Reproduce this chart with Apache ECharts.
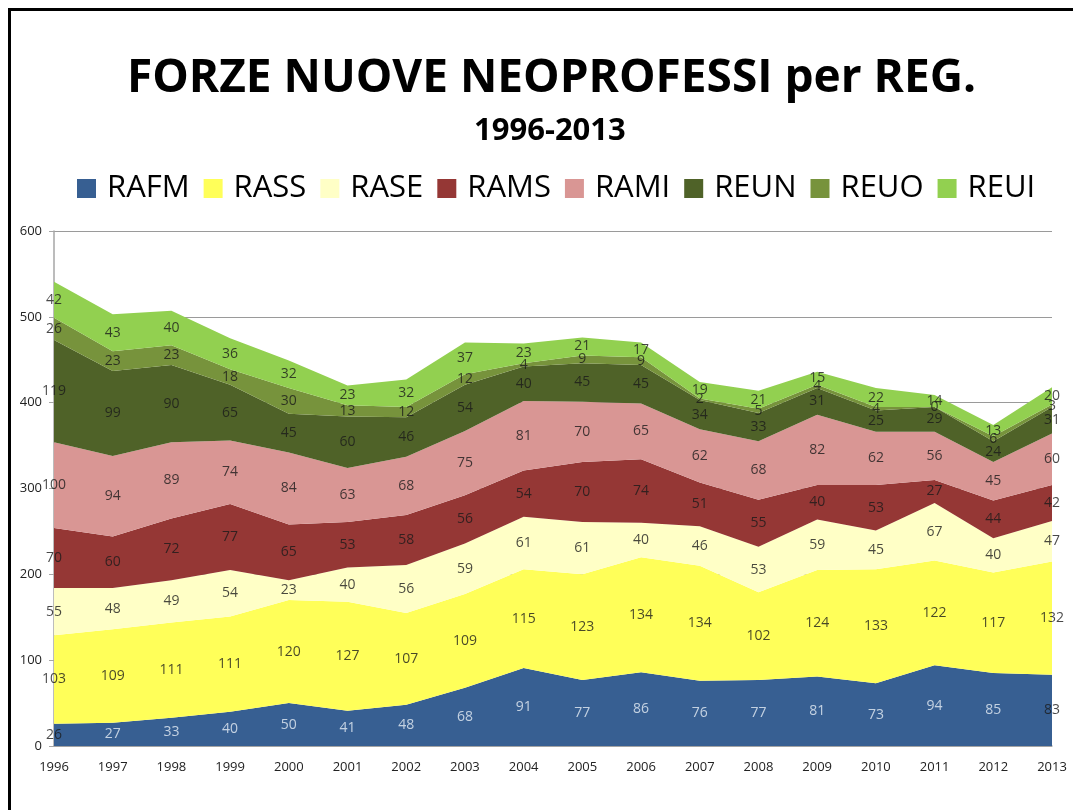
<!DOCTYPE html>
<html>
<head>
<meta charset="utf-8">
<script src="https://cdn.jsdelivr.net/npm/echarts@6/dist/echarts.min.js"></script>
<style>
  html, body { margin: 0; padding: 0; background: #fff; }
  #chart { width: 1073px; height: 810px; }
</style>
</head>
<body>
<div id="chart"></div>
<script>
// Anni e nuovi neoprofessi per regione
const years = ['1996','1997','1998','1999','2000','2001','2002','2003','2004',
               '2005','2006','2007','2008','2009','2010','2011','2012','2013'];
const RAFM = [26, 27, 33, 40, 50, 41, 48, 68, 91, 77, 86, 76, 77, 81, 73, 94, 85, 83];
const RASS = [103, 109, 111, 111, 120, 127, 107, 109, 115, 123, 134, 134, 102, 124, 133, 122, 117, 132];
const RASE = [55, 48, 49, 54, 23, 40, 56, 59, 61, 61, 40, 46, 53, 59, 45, 67, 40, 47];
const RAMS = [70, 60, 72, 77, 65, 53, 58, 56, 54, 70, 74, 51, 55, 40, 53, 27, 44, 42];
const RAMI = [100, 94, 89, 74, 84, 63, 68, 75, 81, 70, 65, 62, 68, 82, 62, 56, 45, 60];
const REUN = [119, 99, 90, 65, 45, 60, 46, 54, 40, 45, 45, 34, 33, 31, 25, 29, 24, 31];
const REUO = [26, 23, 23, 18, 30, 13, 12, 12, 4, 9, 9, 2, 5, 4, 4, 0, 6, 3];
const REUI = [42, 43, 40, 36, 32, 23, 32, 37, 23, 21, 17, 19, 21, 15, 22, 14, 13, 20];
const yTicks = [0, 100, 200, 300, 400, 500, 600];

const seriesDefs = [
  { name: 'RAFM', data: RAFM, color: '#375f92', label: '#e6edf5' },
  { name: 'RASS', data: RASS, color: '#ffff59', label: '#1a1a1a' },
  { name: 'RASE', data: RASE, color: '#ffffc6', label: '#1a1a1a' },
  { name: 'RAMS', data: RAMS, color: '#953735', label: '#1a1a1a' },
  { name: 'RAMI', data: RAMI, color: '#d99694', label: '#1a1a1a' },
  { name: 'REUN', data: REUN, color: '#4f6228', label: '#1a1a1a' },
  { name: 'REUO', data: REUO, color: '#77933c', label: '#1a1a1a' },
  { name: 'REUI', data: REUI, color: '#92d050', label: '#1a1a1a' }
];

const FONT = '"Open Sans", sans-serif';

const areaSeries = seriesDefs.map(s => ({
  name: s.name,
  type: 'line',
  stack: 'tot',
  data: s.data,
  symbol: 'none',
  lineStyle: { width: 0 },
  areaStyle: { color: s.color, opacity: 1 },
  itemStyle: { color: s.color },
  emphasis: { disabled: true },
  z: 2
}));

// value labels sit in the middle of each band
const cum = years.map(() => 0);
const labelSeries = seriesDefs.map(s => {
  const pts = s.data.map((v, i) => {
    const mid = cum[i] + v / 2;
    cum[i] += v;
    const edge = (i === 0 || i === years.length - 1);
    return {
      value: [i, mid, v],
      label: { color: (s.name === 'RAFM' && edge) ? '#1a1a1a' : s.label }
    };
  });
  return {
    type: 'scatter',
    data: pts,
    symbolSize: 0,
    silent: true,
    z: 5,
    label: {
      show: true,
      position: 'inside',
      fontFamily: FONT,
      fontSize: 14,
      formatter: p => String(p.value[2])
    },
    tooltip: { show: false }
  };
});

const chart = echarts.init(document.getElementById('chart'), null, { renderer: 'canvas' });
chart.setOption({
  backgroundColor: '#ffffff',
  animation: false,
  title: [
    {
      text: 'FORZE NUOVE NEOPROFESSI per REG.',
      left: 122, top: 51,
      textStyle: { fontFamily: FONT, fontWeight: 'bold', fontSize: 46, color: '#000' }
    },
    {
      text: '1996-2013',
      left: 469, top: 111,
      textStyle: { fontFamily: FONT, fontWeight: 'bold', fontSize: 31, color: '#000' }
    }
  ],
  legend: {
    data: seriesDefs.map(s => s.name),
    top: 168,
    left: 72,
    itemWidth: 19,
    itemHeight: 19,
    itemGap: 14,
    icon: 'rect',
    textStyle: { fontFamily: FONT, fontSize: 31, color: '#000', padding: [0, 0, 0, 6] }
  },
  grid: { left: 54, right: 21, top: 231, bottom: 64 },
  xAxis: {
    type: 'category',
    data: years,
    boundaryGap: false,
    axisLine: { lineStyle: { color: '#a6a6a6', width: 1.5 } },
    axisTick: { show: false },
    axisLabel: { fontFamily: FONT, fontSize: 13, color: '#222', margin: 15 }
  },
  yAxis: {
    type: 'value',
    min: 0, max: 600, interval: 100,
    axisLine: { show: true, lineStyle: { color: '#a6a6a6', width: 1.5 } },
    axisTick: { show: true, length: 5, lineStyle: { color: '#a6a6a6' } },
    axisLabel: {
      fontFamily: FONT, fontSize: 13, color: '#222', margin: 12,
      formatter: v => yTicks.includes(v) ? String(v) : ''
    },
    splitLine: { lineStyle: { color: '#9a9a9a', width: 1.2 } }
  },
  graphic: [
    { type: 'line', shape: { x1: 9.5, y1: 9, x2: 9.5, y2: 810 }, style: { stroke: '#000', lineWidth: 3 }, z: 10 },
    { type: 'line', shape: { x1: 8, y1: 9.5, x2: 1073, y2: 9.5 }, style: { stroke: '#000', lineWidth: 3 }, z: 10 }
  ],
  series: areaSeries.concat(labelSeries)
});
</script>
</body>
</html>
